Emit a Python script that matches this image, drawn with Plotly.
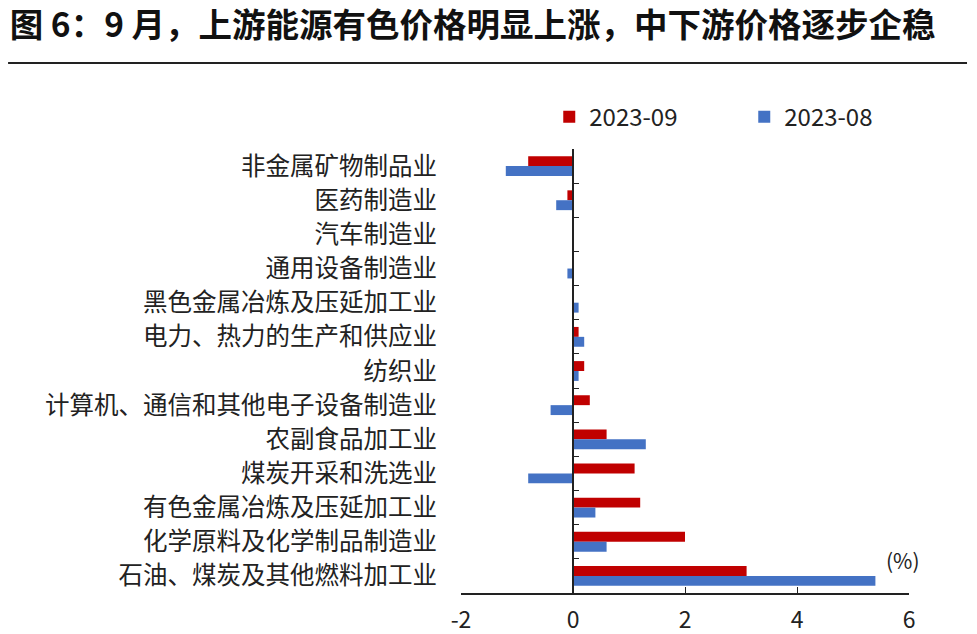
import plotly.graph_objs as go

industries = [
    "非金属矿物制品业",
    "医药制造业",
    "汽车制造业",
    "通用设备制造业",
    "黑色金属冶炼及压延加工业",
    "电力、热力的生产和供应业",
    "纺织业",
    "计算机、通信和其他电子设备制造业",
    "农副食品加工业",
    "煤炭开采和洗选业",
    "有色金属冶炼及压延加工业",
    "化学原料及化学制品制造业",
    "石油、煤炭及其他燃料加工业",
]
sep_2023 = [-0.8, -0.1, 0.0, 0.0, 0.0, 0.1, 0.2, 0.3, 0.6, 1.1, 1.2, 2.0, 3.1]
aug_2023 = [-1.2, -0.3, 0.0, -0.1, 0.1, 0.2, 0.1, -0.4, 1.3, -0.8, 0.4, 0.6, 5.4]
x_ticks = [-2, 0, 2, 4, 6]

font_cn = "Noto Sans CJK SC"

def plot_price_chart():
    fig = go.Figure()

    fig.add_trace(go.Bar(
        y=industries, x=sep_2023, orientation='h',
        name='2023-09', marker=dict(color='#C00000', line=dict(width=0))
    ))
    fig.add_trace(go.Bar(
        y=industries, x=aug_2023, orientation='h',
        name='2023-08', marker=dict(color='#4472C4', line=dict(width=0))
    ))

    # axis line at x=0 with tick marks between categories
    n = len(industries)
    boundaries = [i - 0.5 for i in range(n + 1)]

    fig.update_layout(
        width=977, height=634,
        margin=dict(l=461, r=68, t=149, b=41),
        paper_bgcolor='white', plot_bgcolor='white',
        font=dict(family=font_cn, color='#222222', size=20),
        barmode='group', bargap=0.42, bargroupgap=0,
        showlegend=True,
        legend=dict(
            orientation='h', x=0.197, y=1.072, xanchor='left', yanchor='middle',
            font=dict(size=24, color='#222222'),
            entrywidth=150, entrywidthmode='pixels',
            bgcolor='rgba(0,0,0,0)'
        ),
        xaxis=dict(
            range=[-2, 6], tickvals=x_ticks, ticktext=[str(v) for v in x_ticks],
            ticks='inside', ticklen=6, automargin=False, ticklabelstandoff=6,
            tickcolor='#222222', showline=True, linecolor='#222222', linewidth=1.5,
            showgrid=False, zeroline=False, tickfont=dict(size=23, color='#222222')
        ),
        yaxis=dict(
            type='category', categoryorder='array', categoryarray=industries,
            autorange='reversed', showline=False, ticks='', showgrid=False,
            zeroline=False, ticklabelstandoff=23, automargin=False,
            tickfont=dict(size=24.5, color='#222222')
        ),
        yaxis2=dict(
            overlaying='y', anchor='free', position=0.25, side='left',
            range=[n - 0.5, -0.5], tickvals=boundaries, ticks='inside', ticklen=5,
            tickcolor='#222222', showticklabels=False, showline=True, automargin=False,
            linecolor='#222222', linewidth=1.5, showgrid=False, zeroline=False
        ),
        title=dict(
            text='<b>图 6：9 月，上游能源有色价格明显上涨，中下游价格逐步企稳</b>',
            x=0.01, xanchor='left', y=0.960, yanchor='middle', pad=dict(l=0, t=0),
            font=dict(size=33.5, color='#111111', family=font_cn)
        ),
        annotations=[dict(
            text='(%)', xref='paper', yref='paper', x=0.987, y=0.074,
            xanchor='center', yanchor='middle', showarrow=False,
            font=dict(size=21, color='#222222')
        )],
        shapes=[dict(
            type='line', xref='paper', yref='paper',
            x0=-1.011, x1=1.1295, y0=1.1937, y1=1.1937,
            line=dict(color='#222222', width=2)
        )],
    )
    # invisible point so yaxis2 is drawn
    fig.add_trace(go.Scatter(x=[0], y=[0], yaxis='y2', mode='markers',
                             marker=dict(opacity=0), showlegend=False, hoverinfo='skip'))
    return fig


fig = plot_price_chart()
# drop the browser's default page margin so the figure sits at the window's corner
fig.write_html("out.html", config={'displayModeBar': False},
               post_script="document.body.style.margin='0';")
